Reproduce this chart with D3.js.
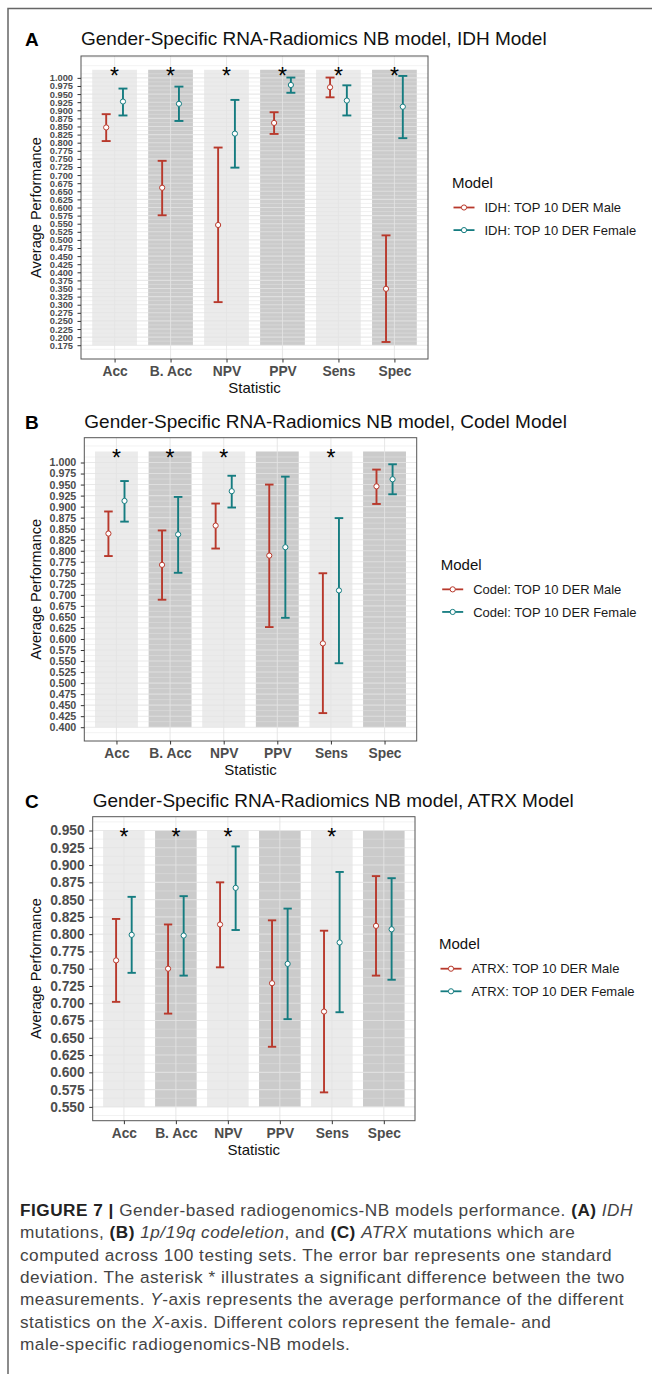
<!DOCTYPE html>
<html>
<head>
<meta charset="utf-8">
<script src="https://cdn.jsdelivr.net/npm/d3@7"></script>
<style>
  body { margin: 0; background: #fff; }
  text { font-family: "Liberation Sans", Arial, sans-serif; }
</style>
</head>
<body>
<div id="chart"></div>
<script>
// categories on the x axis
const statistics = ["Acc", "B. Acc", "NPV", "PPV", "Sens", "Spec"];

// panel A: IDH model (mean, mean - sd, mean + sd)
const idhMaleMean   = [0.847, 0.661, 0.546, 0.861, 0.971, 0.349];
const idhMaleLow    = [0.805, 0.576, 0.308, 0.827, 0.940, 0.185];
const idhMaleHigh   = [0.888, 0.744, 0.785, 0.894, 1.001, 0.514];
const idhFemaleMean = [0.927, 0.920, 0.828, 0.978, 0.930, 0.911];
const idhFemaleLow  = [0.884, 0.867, 0.723, 0.954, 0.884, 0.814];
const idhFemaleHigh = [0.967, 0.973, 0.932, 1.001, 0.977, 1.006];
const idhStars = ["Acc", "B. Acc", "NPV", "PPV", "Sens", "Spec"];
const idhBand = [0.175, 1.025];
const idhTicks = d3.range(0.175, 1.0001, 0.025);

// panel B: Codel model
const codelMaleMean   = [0.839, 0.768, 0.857, 0.789, 0.590, 0.946];
const codelMaleLow    = [0.788, 0.689, 0.805, 0.627, 0.432, 0.906];
const codelMaleHigh   = [0.889, 0.846, 0.907, 0.950, 0.749, 0.984];
const codelFemaleMean = [0.913, 0.837, 0.935, 0.808, 0.710, 0.962];
const codelFemaleLow  = [0.866, 0.750, 0.898, 0.648, 0.545, 0.928];
const codelFemaleHigh = [0.958, 0.922, 0.970, 0.968, 0.874, 0.996];
const codelStars = ["Acc", "B. Acc", "NPV", "Sens"];
const codelBand = [0.400, 1.025];
const codelTicks = d3.range(0.400, 1.0001, 0.025);

// panel C: ATRX model
const atrxMaleMean   = [0.762, 0.750, 0.814, 0.729, 0.688, 0.812];
const atrxMaleLow    = [0.702, 0.685, 0.752, 0.637, 0.571, 0.740];
const atrxMaleHigh   = [0.822, 0.814, 0.875, 0.820, 0.805, 0.884];
const atrxFemaleMean = [0.799, 0.798, 0.867, 0.757, 0.788, 0.807];
const atrxFemaleLow  = [0.744, 0.740, 0.806, 0.677, 0.687, 0.734];
const atrxFemaleHigh = [0.854, 0.855, 0.927, 0.837, 0.890, 0.881];
const atrxStars = ["Acc", "B. Acc", "NPV", "Sens"];
const atrxBand = [0.550, 0.950];
const atrxTicks = d3.range(0.550, 0.9501, 0.025);

const captionLines = [
  [["FIGURE 7 | ", "b"], ["Gender-based radiogenomics-NB models performance. ", ""], ["(A)", "b"], [" ", ""], ["IDH", "i"]],
  [["mutations, ", ""], ["(B)", "b"], [" ", ""], ["1p/19q codeletion", "i"], [", and ", ""], ["(C)", "b"], [" ", ""], ["ATRX", "i"], [" mutations which are", ""]],
  [["computed across 100 testing sets. The error bar represents one standard", ""]],
  [["deviation. The asterisk * illustrates a significant difference between the two", ""]],
  [["measurements. ", ""], ["Y", "i"], ["-axis represents the average performance of the different", ""]],
  [["statistics on the ", ""], ["X", "i"], ["-axis. Different colors represent the female- and", ""]],
  [["male-specific radiogenomics-NB models.", ""]]
];

const maleColor = "#b8392c";
const femaleColor = "#157c80";

const width = 652, height = 1374;
const svg = d3.select("#chart").append("svg")
  .attr("width", width)
  .attr("height", height);

// outer frame of the figure
svg.append("path")
  .attr("d", `M8,${height} V8.5 H${width}`)
  .attr("fill", "none")
  .attr("stroke", "#666")
  .attr("stroke-width", 1.5);

function series(mean, low, high) {
  return statistics.map((s, i) => ({stat: s, mean: mean[i], low: low[i], high: high[i]}));
}

const panels = [
  {letter: "A", title: "Gender-Specific RNA-Radiomics NB model, IDH Model", prefix: "IDH",
   male: series(idhMaleMean, idhMaleLow, idhMaleHigh),
   female: series(idhFemaleMean, idhFemaleLow, idhFemaleHigh),
   stars: idhStars, band: idhBand, ticks: idhTicks,
   box: {left: 81, top: 56, right: 428, bottom: 359}, titleY: 45, tickFont: 9.3},
  {letter: "B", title: "Gender-Specific RNA-Radiomics NB model, Codel Model", prefix: "Codel",
   male: series(codelMaleMean, codelMaleLow, codelMaleHigh),
   female: series(codelFemaleMean, codelFemaleLow, codelFemaleHigh),
   stars: codelStars, band: codelBand, ticks: codelTicks,
   box: {left: 84.3, top: 437.7, right: 416.7, bottom: 741}, titleY: 428, tickFont: 10.7},
  {letter: "C", title: "Gender-Specific RNA-Radiomics NB model, ATRX Model", prefix: "ATRX",
   male: series(atrxMaleMean, atrxMaleLow, atrxMaleHigh),
   female: series(atrxFemaleMean, atrxFemaleLow, atrxFemaleHigh),
   stars: atrxStars, band: atrxBand, ticks: atrxTicks,
   box: {left: 92.7, top: 816.7, right: 415, bottom: 1120.7}, titleY: 807, tickFont: 13.8}
];

panels.forEach(drawPanel);

function drawPanel(p) {
  const b = p.box;
  const g = svg.append("g");
  const span = p.band[1] - p.band[0];

  const y = d3.scaleLinear()
    .domain([p.band[0] - 0.05 * span, p.band[1] + 0.05 * span])
    .range([b.bottom, b.top]);
  const x = d3.scalePoint()
    .domain(statistics)
    .range([b.left, b.right])
    .padding(0.6);
  const step = x.step();

  // alternating background bands
  g.append("g").selectAll("rect")
    .data(statistics)
    .join("rect")
    .attr("x", d => x(d) - 0.4 * step)
    .attr("width", 0.8 * step)
    .attr("y", y(p.band[1]))
    .attr("height", y(p.band[0]) - y(p.band[1]))
    .attr("fill", (d, i) => i % 2 ? "#8c8c8c" : "#bdbdbd")
    .attr("fill-opacity", (d, i) => i % 2 ? 0.45 : 0.3);

  // grid lines
  const dom = y.domain();
  const minor = d3.range(p.ticks[0] - 0.0125, dom[1], 0.025).filter(v => v > dom[0]);
  const grid = g.append("g").attr("stroke", "#e4e4e4").attr("stroke-opacity", 0.8);
  grid.selectAll(".minor").data(minor).join("line")
    .attr("x1", b.left).attr("x2", b.right)
    .attr("y1", d => y(d)).attr("y2", d => y(d))
    .attr("stroke-width", 0.6);
  grid.selectAll(".major").data(p.ticks).join("line")
    .attr("x1", b.left).attr("x2", b.right)
    .attr("y1", d => y(d)).attr("y2", d => y(d))
    .attr("stroke-width", 1.1);
  grid.selectAll(".vert").data(statistics).join("line")
    .attr("x1", d => x(d)).attr("x2", d => x(d))
    .attr("y1", b.top).attr("y2", b.bottom)
    .attr("stroke-width", 1.1);

  // error bars and points for each model
  const groups = [
    {data: p.male, color: maleColor, offset: -0.15 * step},
    {data: p.female, color: femaleColor, offset: 0.15 * step}
  ];
  const cap = 0.08 * step;
  groups.forEach(s => {
    const eg = g.append("g").attr("stroke", s.color).attr("stroke-width", 1.9);
    eg.selectAll(".stem").data(s.data).join("line")
      .attr("x1", d => x(d.stat) + s.offset).attr("x2", d => x(d.stat) + s.offset)
      .attr("y1", d => y(d.low)).attr("y2", d => y(d.high));
    eg.selectAll(".top").data(s.data).join("line")
      .attr("x1", d => x(d.stat) + s.offset - cap).attr("x2", d => x(d.stat) + s.offset + cap)
      .attr("y1", d => y(d.high)).attr("y2", d => y(d.high));
    eg.selectAll(".bottom").data(s.data).join("line")
      .attr("x1", d => x(d.stat) + s.offset - cap).attr("x2", d => x(d.stat) + s.offset + cap)
      .attr("y1", d => y(d.low)).attr("y2", d => y(d.low));
    g.append("g").selectAll("circle").data(s.data).join("circle")
      .attr("cx", d => x(d.stat) + s.offset)
      .attr("cy", d => y(d.mean))
      .attr("r", 2.6)
      .attr("fill", "#fff")
      .attr("stroke", s.color)
      .attr("stroke-width", 1);
  });

  // significance asterisks
  g.append("g").selectAll("text")
    .data(p.stars)
    .join("text")
    .attr("x", d => x(d))
    .attr("y", y(p.band[1]) + 14.5)
    .attr("text-anchor", "middle")
    .style("font-size", "23px")
    .attr("fill", "#000")
    .text("*");

  // panel border
  g.append("rect")
    .attr("x", b.left).attr("y", b.top)
    .attr("width", b.right - b.left).attr("height", b.bottom - b.top)
    .attr("fill", "none")
    .attr("stroke", "#555")
    .attr("stroke-width", 1);

  // axes
  const yAxis = g.append("g")
    .attr("transform", `translate(${b.left},0)`)
    .call(d3.axisLeft(y).tickValues(p.ticks).tickSize(3.5).tickPadding(4.5).tickFormat(d3.format(".3f")));
  yAxis.select(".domain").remove();
  yAxis.selectAll("line").attr("stroke", "#333");
  yAxis.selectAll("text")
    .attr("fill", "#4d4d4d")
    .style("font-size", p.tickFont + "px")
    .style("font-weight", "bold");

  const xAxis = g.append("g")
    .attr("transform", `translate(0,${b.bottom})`)
    .call(d3.axisBottom(x).tickSize(3.5).tickPadding(4));
  xAxis.select(".domain").remove();
  xAxis.selectAll("line").attr("stroke", "#333");
  xAxis.selectAll("text")
    .attr("fill", "#4d4d4d")
    .style("font-size", "13.8px")
    .style("font-weight", "bold");

  // axis titles
  g.append("text")
    .attr("x", (b.left + b.right) / 2)
    .attr("y", b.bottom + 34)
    .attr("text-anchor", "middle")
    .style("font-size", "15px")
    .attr("fill", "#111")
    .text("Statistic");

  g.append("text")
    .attr("transform", `translate(41,${(b.top + b.bottom) / 2}) rotate(-90)`)
    .attr("text-anchor", "middle")
    .style("font-size", "14.5px")
    .attr("fill", "#111")
    .text("Average Performance");

  // plot title and panel letter
  g.append("text")
    .attr("x", b.left)
    .attr("y", p.titleY)
    .style("font-size", "19px")
    .attr("fill", "#111")
    .text(p.title);

  g.append("text")
    .attr("x", 25)
    .attr("y", p.titleY + 1)
    .style("font-size", "19px")
    .style("font-weight", "bold")
    .attr("fill", "#000")
    .text(p.letter);

  // legend
  const lx = b.right + 24;
  const ly = (b.top + b.bottom) / 2;
  const legend = g.append("g").attr("transform", `translate(${lx},${ly})`);
  legend.append("text")
    .attr("x", 0)
    .attr("y", -19.5)
    .style("font-size", "15px")
    .attr("fill", "#111")
    .text("Model");
  const entries = [
    {label: `${p.prefix}: TOP 10 DER Male`, color: maleColor},
    {label: `${p.prefix}: TOP 10 DER Female`, color: femaleColor}
  ];
  const rows = legend.selectAll(".row")
    .data(entries)
    .join("g")
    .attr("transform", (d, i) => `translate(0,${i * 22.6})`);
  rows.append("line")
    .attr("x1", 1.5).attr("x2", 22.5)
    .attr("y1", 0).attr("y2", 0)
    .attr("stroke", d => d.color)
    .attr("stroke-width", 1.8);
  rows.append("circle")
    .attr("cx", 12).attr("cy", 0).attr("r", 2.6)
    .attr("fill", "#fff")
    .attr("stroke", d => d.color);
  rows.append("text")
    .attr("x", 32.5)
    .attr("y", 0)
    .attr("dy", "0.35em")
    .style("font-size", "13px")
    .attr("fill", "#1a1a1a")
    .text(d => d.label);
}

// figure caption
const caption = svg.append("g");
captionLines.forEach((line, i) => {
  const t = caption.append("text")
    .attr("x", 20)
    .attr("y", 1216 + i * 22.3)
    .style("font-size", "17.2px")
    .style("letter-spacing", "0.5px")
    .attr("fill", "#444");
  line.forEach(([str, style]) => {
    t.append("tspan")
      .style("font-weight", style === "b" ? "bold" : "normal")
      .style("font-style", style === "i" ? "italic" : "normal")
      .attr("fill", style === "b" ? "#222" : "#444")
      .text(str);
  });
});
</script>
</body>
</html>
